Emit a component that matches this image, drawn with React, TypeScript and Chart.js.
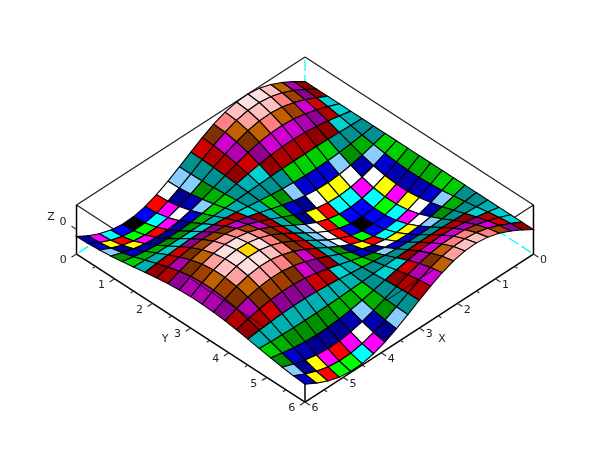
import React, { useEffect, useRef } from "react";
import { Chart, registerables } from "chart.js";

Chart.register(...registerables);

const xValues = [0, 0.3, 0.6, 0.9, 1.2, 1.5, 1.8, 2.1, 2.4, 2.7, 3, 3.3, 3.6, 3.9, 4.2, 4.5, 4.8, 5.1, 5.4, 5.7, 6];
const yValues = [0, 0.3, 0.6, 0.9, 1.2, 1.5, 1.8, 2.1, 2.4, 2.7, 3, 3.3, 3.6, 3.9, 4.2, 4.5, 4.8, 5.1, 5.4, 5.7, 6];

// Surface heights: one row per x value, one column per y value.
const zRows = [
  [0, 0, 0, 0, 0, 0, 0, 0, 0, 0, 0, 0, 0, 0, 0, 0, 0, 0, 0, 0, 0],
  [0.296, 0.282, 0.244, 0.184, 0.107, 0.021, -0.067, -0.149, -0.218, -0.267, -0.293, -0.292, -0.265, -0.215, -0.145, -0.062, 0.026, 0.112, 0.188, 0.247, 0.284],
  [0.565, 0.539, 0.466, 0.351, 0.205, 0.04, -0.128, -0.285, -0.416, -0.51, -0.559, -0.558, -0.506, -0.41, -0.277, -0.119, 0.049, 0.213, 0.358, 0.471, 0.542],
  [0.783, 0.748, 0.646, 0.487, 0.284, 0.055, -0.178, -0.395, -0.578, -0.708, -0.775, -0.774, -0.702, -0.569, -0.384, -0.165, 0.069, 0.296, 0.497, 0.654, 0.752],
  [0.932, 0.89, 0.769, 0.579, 0.338, 0.066, -0.212, -0.47, -0.687, -0.843, -0.923, -0.92, -0.836, -0.677, -0.457, -0.196, 0.082, 0.352, 0.592, 0.778, 0.895],
  [0.998, 0.953, 0.823, 0.62, 0.361, 0.071, -0.227, -0.504, -0.736, -0.902, -0.988, -0.985, -0.895, -0.724, -0.489, -0.21, 0.087, 0.377, 0.633, 0.833, 0.958],
  [0.974, 0.93, 0.804, 0.605, 0.353, 0.069, -0.221, -0.492, -0.718, -0.88, -0.964, -0.962, -0.873, -0.707, -0.477, -0.205, 0.085, 0.368, 0.618, 0.813, 0.935],
  [0.863, 0.825, 0.712, 0.537, 0.313, 0.061, -0.196, -0.436, -0.637, -0.78, -0.855, -0.852, -0.774, -0.627, -0.423, -0.182, 0.076, 0.326, 0.548, 0.721, 0.829],
  [0.676, 0.645, 0.557, 0.42, 0.245, 0.048, -0.153, -0.341, -0.498, -0.611, -0.669, -0.667, -0.606, -0.49, -0.331, -0.142, 0.059, 0.255, 0.429, 0.564, 0.649],
  [0.427, 0.408, 0.353, 0.266, 0.155, 0.03, -0.097, -0.216, -0.315, -0.386, -0.423, -0.422, -0.383, -0.31, -0.21, -0.09, 0.037, 0.162, 0.271, 0.357, 0.41],
  [0.141, 0.135, 0.116, 0.088, 0.051, 0.01, -0.032, -0.071, -0.104, -0.128, -0.14, -0.139, -0.127, -0.102, -0.069, -0.03, 0.012, 0.053, 0.09, 0.118, 0.135],
  [-0.158, -0.151, -0.13, -0.098, -0.057, -0.011, 0.036, 0.08, 0.116, 0.143, 0.156, 0.156, 0.141, 0.114, 0.077, 0.033, -0.014, -0.06, -0.1, -0.132, -0.151],
  [-0.443, -0.423, -0.365, -0.275, -0.16, -0.031, 0.101, 0.223, 0.326, 0.4, 0.438, 0.437, 0.397, 0.321, 0.217, 0.093, -0.039, -0.167, -0.281, -0.369, -0.425],
  [-0.688, -0.657, -0.568, -0.428, -0.249, -0.049, 0.156, 0.347, 0.507, 0.622, 0.681, 0.679, 0.617, 0.499, 0.337, 0.145, -0.06, -0.26, -0.437, -0.574, -0.66],
  [-0.872, -0.833, -0.719, -0.542, -0.316, -0.062, 0.198, 0.44, 0.643, 0.788, 0.863, 0.861, 0.782, 0.633, 0.427, 0.184, -0.076, -0.329, -0.553, -0.728, -0.837],
  [-0.978, -0.934, -0.807, -0.608, -0.354, -0.069, 0.222, 0.493, 0.721, 0.884, 0.968, 0.965, 0.877, 0.71, 0.479, 0.206, -0.086, -0.369, -0.62, -0.816, -0.939],
  [-0.996, -0.952, -0.822, -0.619, -0.361, -0.07, 0.226, 0.503, 0.735, 0.901, 0.986, 0.984, 0.893, 0.723, 0.488, 0.21, -0.087, -0.377, -0.632, -0.832, -0.957],
  [-0.926, -0.884, -0.764, -0.575, -0.336, -0.065, 0.21, 0.467, 0.683, 0.837, 0.917, 0.914, 0.83, 0.672, 0.454, 0.195, -0.081, -0.35, -0.588, -0.773, -0.889],
  [-0.773, -0.738, -0.638, -0.48, -0.28, -0.055, 0.176, 0.39, 0.57, 0.699, 0.765, 0.763, 0.693, 0.561, 0.379, 0.163, -0.068, -0.292, -0.49, -0.645, -0.742],
  [-0.551, -0.526, -0.454, -0.342, -0.2, -0.039, 0.125, 0.278, 0.406, 0.498, 0.545, 0.544, 0.494, 0.4, 0.27, 0.116, -0.048, -0.208, -0.35, -0.46, -0.529],
  [-0.279, -0.267, -0.231, -0.174, -0.101, -0.02, 0.063, 0.141, 0.206, 0.253, 0.277, 0.276, 0.251, 0.203, 0.137, 0.059, -0.024, -0.106, -0.177, -0.233, -0.268],
];

const colormap = [
  "#000000", "#0000ff", "#00ff00", "#00ffff", "#ff0000", "#ff00ff", "#ffff00", "#ffffff",
  "#000090", "#0000b0", "#0000d0", "#87ceff", "#009000", "#00b000", "#00d000", "#009090",
  "#00b0b0", "#00d0d0", "#900000", "#b00000", "#d00000", "#900090", "#b000b0", "#d000d0",
  "#803000", "#a04000", "#c06000", "#ff8080", "#ffa0a0", "#ffc0c0", "#ffe0e0", "#ffd700",
];

const xTicks = [0, 1, 2, 3, 4, 5, 6];
const yTicks = [0, 1, 2, 3, 4, 5, 6];
const zTicks = [0];
const xMinorTicks = [0.5, 1.5, 2.5, 3.5, 4.5, 5.5];
const yMinorTicks = [0.5, 1.5, 2.5, 3.5, 4.5, 5.5];

const Z_MIN = -0.996;
const Z_MAX = 0.998;

function project(x: number, y: number, z: number) {
  return {
    x: 305 + (y - x) * 38.08,
    y: 106 + (x + y) * 24.67 - ((z - Z_MIN) / (Z_MAX - Z_MIN)) * 49,
  };
}

function facetColor(mean: number) {
  const idx = Math.round(((mean - Z_MIN) / (Z_MAX - Z_MIN)) * 31);
  return colormap[Math.max(0, Math.min(31, idx))];
}

function segment(a: any, b: any, color: string, width: number, dash?: number[], offset?: number) {
  return {
    type: "scatter" as const,
    data: [a, b],
    showLine: true,
    fill: false,
    borderColor: color,
    borderWidth: width,
    borderDash: dash || [],
    borderDashOffset: offset || 0,
    pointRadius: 0,
    tension: 0,
  };
}

function buildDatasets() {
  const paint: any[] = [];
  const dash = [11, 4];
  paint.push(segment(project(0, 6, Z_MIN), project(0, 0, Z_MIN), "#00ffff", 1.3, dash, 12));
  paint.push(segment(project(6, 0, Z_MIN), project(0, 0, Z_MIN), "#00ffff", 1.3, dash, 12));
  paint.push(segment(project(0, 0, Z_MAX), project(0, 0, Z_MIN), "#00ffff", 1.3, dash, 12));
  paint.push(segment(project(6, 0, Z_MAX), project(0, 0, Z_MAX), "#222222", 1.3));
  paint.push(segment(project(0, 0, Z_MAX), project(0, 6, Z_MAX), "#222222", 1.3));
  paint.push(segment(project(6, 0, Z_MAX), project(6, 6, Z_MAX), "#222222", 1.3));
  paint.push(segment(project(0, 6, Z_MAX), project(6, 6, Z_MAX), "#222222", 1.3));
  paint.push(segment(project(6, 0, Z_MIN), project(6, 0, Z_MAX), "#000000", 1.5));
  paint.push(segment(project(0, 6, Z_MIN), project(0, 6, Z_MAX), "#000000", 1.5));
  paint.push(segment(project(6, 6, Z_MIN), project(6, 6, Z_MAX), "#000000", 1.5));
  paint.push(segment(project(6, 0, Z_MIN), project(6, 6, Z_MIN), "#000000", 1.5));
  paint.push(segment(project(0, 6, Z_MIN), project(6, 6, Z_MIN), "#000000", 1.5));

  const tick = (x: number, y: number, dx: number, dy: number, z: number) => {
    const a = project(x, y, z);
    paint.push(segment(a, { x: a.x + dx, y: a.y + dy }, "#333333", 1.2));
  };
  yTicks.forEach((t) => tick(6, t, -5, 3.2, Z_MIN));
  yMinorTicks.forEach((t) => tick(6, t, -3, 2, Z_MIN));
  xTicks.forEach((t) => tick(t, 6, 5, 3.2, Z_MIN));
  xMinorTicks.forEach((t) => tick(t, 6, 3, 2, Z_MIN));
  zTicks.forEach((t) => tick(6, 0, -5, -3.2, t));

  for (let i = 0; i < xValues.length - 1; i++) {
    for (let j = 0; j < yValues.length - 1; j++) {
      const zs = [zRows[i][j], zRows[i + 1][j], zRows[i + 1][j + 1], zRows[i][j + 1]];
      const mean = (zs[0] + zs[1] + zs[2] + zs[3]) / 4;
      const a = project(xValues[i], yValues[j], zs[0]);
      paint.push({
        type: "scatter" as const,
        data: [
          a,
          project(xValues[i + 1], yValues[j], zs[1]),
          project(xValues[i + 1], yValues[j + 1], zs[2]),
          project(xValues[i], yValues[j + 1], zs[3]),
          a,
        ],
        showLine: true,
        fill: "shape",
        backgroundColor: facetColor(mean),
        borderColor: "#000000",
        borderWidth: 1.1,
        pointRadius: 0,
        tension: 0,
      });
    }
  }

  // Parts of the front top box edges that show on the surface
  paint.push(segment(project(6, 3, Z_MAX), project(6, 4.95, Z_MAX), "#111111", 1));
  paint.push(segment(project(2.64, 6, Z_MAX), project(3.9, 6, Z_MAX), "#111111", 1));

  return paint.reverse();
}

const labelsPlugin = {
  id: "axisLabels",
  afterDatasetsDraw(chart: any) {
    const { ctx, scales } = chart;
    const put = (text: string, px: number, py: number) => {
      ctx.fillText(text, scales.x.getPixelForValue(px), scales.y.getPixelForValue(py));
    };
    ctx.save();
    ctx.font = '11px "DejaVu Sans"';
    ctx.fillStyle = "#222222";
    ctx.textAlign = "center";
    ctx.textBaseline = "middle";
    yTicks.forEach((t) => {
      const p = project(6, t, Z_MIN);
      put(String(t), p.x - 13.2, p.y + 6.6);
    });
    xTicks.forEach((t) => {
      const p = project(t, 6, Z_MIN);
      put(String(t), p.x + 10, p.y + 6.6);
    });
    zTicks.forEach((t) => {
      const p = project(6, 0, t);
      put(String(t), p.x - 13.5, p.y - 7);
    });
    put("X", 442, 339);
    put("Y", 165, 339);
    put("Z", 51, 217);
    ctx.restore();
  },
};

export default function App() {
  const ref = useRef<HTMLCanvasElement | null>(null);
  useEffect(() => {
    if (!ref.current) return;
    const chart = new Chart(ref.current, {
      type: "scatter",
      data: { datasets: buildDatasets() as any },
      options: {
        animation: false,
        responsive: false,
        events: [],
        layout: { padding: 0 },
        scales: {
          x: { type: "linear", min: 0, max: 610, display: false },
          y: { type: "linear", min: 0, max: 460, reverse: true, display: false },
        },
        plugins: { legend: { display: false }, tooltip: { enabled: false }, title: { display: false } },
      },
      plugins: [labelsPlugin],
    });
    return () => chart.destroy();
  }, []);
  return (
    <div style={{ position: "absolute", left: 0, top: 0, width: 610, height: 460, background: "#ffffff" }}>
      <canvas ref={ref} width={610} height={460} style={{ display: "block" }} />
    </div>
  );
}
